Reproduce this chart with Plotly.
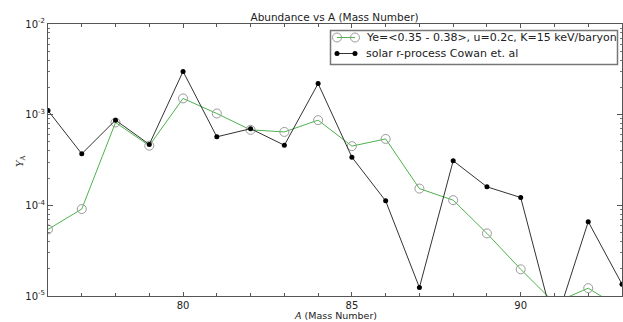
import plotly.graph_objects as go

mass_number = [76, 77, 78, 79, 80, 81, 82, 83, 84, 85, 86, 87, 88, 89, 90, 91, 92, 93]
model_yield = [5.43e-5, 9.1e-5, 8.2e-4, 4.55e-4, 1.51e-3, 1.03e-3, 6.8e-4, 6.45e-4, 8.7e-4,
               4.5e-4, 5.4e-4, 1.53e-4, 1.14e-4, 4.9e-5, 1.97e-5, 8.4e-6, 1.22e-5, 7.2e-6]
solar_yield = [1.11e-3, 3.7e-4, 8.7e-4, 4.7e-4, 3.0e-3, 5.7e-4, 7.0e-4, 4.6e-4, 2.2e-3,
               3.4e-4, 1.12e-4, 1.24e-5, 3.1e-4, 1.6e-4, 1.22e-4, 4.6e-6, 6.6e-5, 1.35e-5]
model_label = "Ye=&lt;0.35 - 0.38&gt;, u=0.2c, K=15 keV/baryon"
solar_label = "solar r-process Cowan et. al"
y_tickvals = [1e-5, 1e-4, 1e-3, 1e-2]
y_ticktext = ["10<sup>-5</sup>", "10<sup>-4</sup>", "10<sup>-3</sup>", "10<sup>-2</sup>"]
y_minorvals = [m * 10.0 ** e for e in (-5, -4, -3) for m in range(2, 10)]
x_tickvals = [80, 85, 90]

W, H = 623, 322
ML, MR, MT, MB = 48, 1, 24, 26
PW, PH = W - ML - MR, H - MT - MB

GREEN = "#4db34d"
GREY = "#9a9a9a"
DARK = "#333333"
TXT = "#222222"


def px_x(p):
    return (p - ML) / PW


def px_y(p):
    return 1 - (p - MT) / PH


fig = go.Figure()
fig.add_trace(go.Scatter(
    x=mass_number, y=model_yield, name=model_label, mode="lines+markers",
    line=dict(color=GREEN, width=1),
    marker=dict(symbol="circle-open", size=9, color=GREY, line=dict(width=1, color=GREY)),
))
fig.add_trace(go.Scatter(
    x=mass_number, y=solar_yield, name=solar_label, mode="lines+markers",
    line=dict(color=DARK, width=1),
    marker=dict(symbol="circle", size=5, color="#000000"),
))

# ---- legend, matplotlib style, drawn on a pixel overlay axis ----
legend_rows = [
    (model_label, 37.5, dict(color=GREEN, width=1),
     dict(symbol="circle-open", size=9, color=GREY, line=dict(width=1, color=GREY))),
    (solar_label, 53.5, dict(color=DARK, width=1), dict(symbol="circle", size=5, color="#000000")),
]
annotations = []
for label, yy, ln, mk in legend_rows:
    fig.add_trace(go.Scatter(x=[337, 355], y=[yy, yy], xaxis="x2", yaxis="y2", mode="lines+markers",
                             line=ln, marker=mk, hoverinfo="skip", showlegend=False, cliponaxis=False))
    annotations.append(dict(text=label, xref="paper", yref="paper", x=px_x(365), y=px_y(yy),
                            xanchor="left", yanchor="middle", showarrow=False, borderpad=0,
                            font=dict(family="DejaVu Sans", size=11, color=TXT)))

shapes = [dict(type="rect", xref="x2", yref="y2", x0=330.5, x1=617.5, y0=30.5, y1=64.5,
               line=dict(color="#777777", width=1.5), fillcolor="rgba(0,0,0,0)", layer="above")]

axis_common = dict(showline=True, linecolor="#555555", linewidth=1, mirror="allticks",
                   ticks="inside", tickcolor="#555555", showgrid=False, zeroline=False,
                   tickfont=dict(family="DejaVu Sans", size=10, color=TXT))

fig.update_layout(
    xaxis=dict(range=[76, 93], tickvals=x_tickvals, ticklen=4,
               minor=dict(dtick=1, ticks="inside", ticklen=3, tickcolor="#555555", showgrid=False),
               **axis_common),
    yaxis=dict(type="log", range=[-5, -2], tickvals=y_tickvals, ticktext=y_ticktext, ticklen=5,
               minor=dict(tickvals=y_minorvals, ticks="inside", ticklen=2, tickcolor="#777777", showgrid=False),
               **axis_common),
    xaxis2=dict(range=[ML, W - MR], overlaying="x", visible=False, fixedrange=True),
    yaxis2=dict(range=[H - MB, MT], overlaying="y", visible=False, fixedrange=True),
)

annotations += [
    dict(text="<i>A</i> (Mass Number)", xref="paper", yref="paper", x=0.5, y=px_y(315), xanchor="center",
         yanchor="middle", showarrow=False, font=dict(family="DejaVu Sans", size=9.5, color=TXT)),
    dict(text="<i>Y</i><sub>A</sub>", xref="paper", yref="paper", x=px_x(20), y=px_y(161), xanchor="center",
         yanchor="middle", showarrow=False, textangle=-90, font=dict(family="DejaVu Serif", size=10, color=TXT)),
]

fig.update_layout(
    width=W, height=H,
    margin=dict(l=ML, r=MR, t=MT, b=MB),
    paper_bgcolor="white", plot_bgcolor="white",
    title=dict(text="Abundance vs A (Mass Number)", x=0.537, xanchor="center", y=1 - 17 / H, yanchor="middle",
               yref="container", font=dict(family="DejaVu Sans", size=10.5, color=TXT)),
    showlegend=False,
    shapes=shapes,
    annotations=annotations,
)

fig.write_html("out.html")
